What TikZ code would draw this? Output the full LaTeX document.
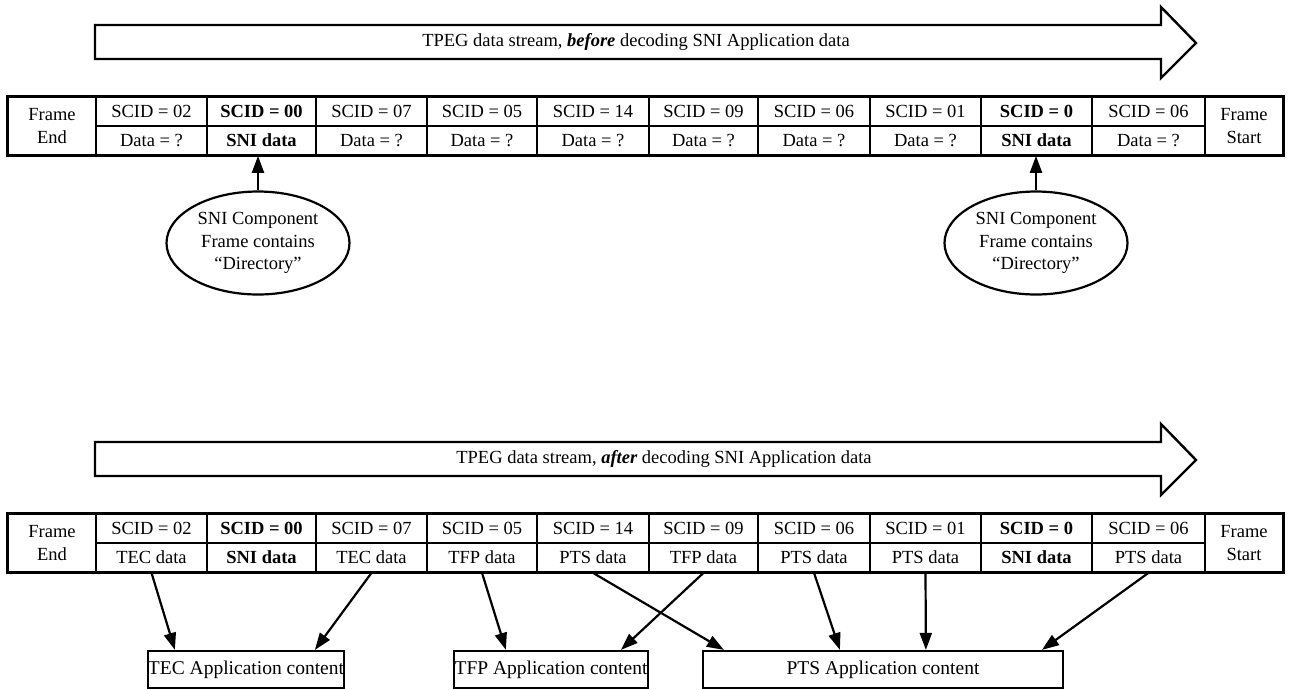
\documentclass[tikz,border=0pt]{standalone}
\usepackage{fontspec}
\setmainfont{Liberation Serif}
\usetikzlibrary{shapes.geometric,arrows.meta,calc}
\begin{document}
\begin{tikzpicture}[x=1pt,y=-1pt,
  txt/.style={font=\fontsize{18.5}{23}\selectfont},
  cell/.style={draw, line width=1.7pt, minimum height=29pt, inner sep=0pt, txt, anchor=center},
  framecell/.style={cell, minimum height=58pt, align=center},
  ell/.style={ellipse, draw, line width=2.2pt, minimum width=183pt, minimum height=103pt, inner sep=0pt, align=center, font=\fontsize{18.5}{22.5}\selectfont},
  appbox/.style={draw, line width=2.2pt, minimum height=37pt, inner sep=0pt, font=\fontsize{19.5}{23}\selectfont},
  arr/.style={line width=2.2pt, -{Triangle[length=17pt,width=12pt]}},
  bigarrow/.style={draw, line width=2.4pt, line join=miter}
]
\useasboundingbox (0,0) rectangle (1293,689);

% ---------- top stream arrow ----------
\draw[bigarrow] (95,25) -- (1161,25) -- (1161,7) -- (1196,43) -- (1161,78) -- (1161,59) -- (95,59) -- cycle;
\node[txt] (s1) at (636,42) {TPEG data stream, \textbf{\textit{before}} decoding SNI Application data};

% ---------- top table ----------
\foreach \xl/\xr/\up/\dn/\nm in {
  96/207/{SCID = 02}/{Data = ?}/1,
  207/316/{\textbf{SCID = 00}}/{\textbf{SNI data}}/2,
  316/427/{SCID = 07}/{Data = ?}/3,
  427/537/{SCID = 05}/{Data = ?}/4,
  537/649/{SCID = 14}/{Data = ?}/5,
  649/758/{SCID = 09}/{Data = ?}/6,
  758/870/{SCID = 06}/{Data = ?}/7,
  870/981/{SCID = 01}/{Data = ?}/8,
  981/1092/{\textbf{SCID = 0}}/{\textbf{SNI data}}/9,
  1092/1205/{SCID = 06}/{Data = ?}/10}{
  \node[cell, minimum width=\xr-\xl] (au\nm) at ({(\xl+\xr)/2},111.5) {\up};
  \node[cell, minimum width=\xr-\xl] (ad\nm) at ({(\xl+\xr)/2},140.5) {\dn};
}
\node[framecell, minimum width=88pt] (afe) at (52,126) {Frame\\End};
\node[framecell, minimum width=78pt] (afs) at (1244,126) {Frame\\Start};
\draw[line width=2.8pt] (afe.north west) rectangle (afs.south east);

% ---------- ellipses ----------
\node[ell] (e1) at (258,243) {SNI Component\\Frame contains\\“Directory”};
\node[ell] (e2) at (1036,243) {SNI Component\\Frame contains\\“Directory”};
\draw[arr] (e1.north) -- (e1.north |- ad2.south);
\draw[arr] (e2.north) -- (e2.north |- ad9.south);

% ---------- bottom stream arrow ----------
\draw[bigarrow] (95,442) -- (1161,442) -- (1161,424) -- (1196,460) -- (1161,495) -- (1161,476) -- (95,476) -- cycle;
\node[txt] (s2) at (664,459) {TPEG data stream, \textbf{\textit{after}} decoding SNI Application data};

% ---------- bottom table ----------
\foreach \xl/\xr/\up/\dn/\nm in {
  96/207/{SCID = 02}/{TEC data}/1,
  207/316/{\textbf{SCID = 00}}/{\textbf{SNI data}}/2,
  316/427/{SCID = 07}/{TEC data}/3,
  427/537/{SCID = 05}/{TFP data}/4,
  537/649/{SCID = 14}/{PTS data}/5,
  649/758/{SCID = 09}/{TFP data}/6,
  758/870/{SCID = 06}/{PTS data}/7,
  870/981/{SCID = 01}/{PTS data}/8,
  981/1092/{\textbf{SCID = 0}}/{\textbf{SNI data}}/9,
  1092/1205/{SCID = 06}/{PTS data}/10}{
  \node[cell, minimum width=\xr-\xl] (bu\nm) at ({(\xl+\xr)/2},528.5) {\up};
  \node[cell, minimum width=\xr-\xl] (bd\nm) at ({(\xl+\xr)/2},557.5) {\dn};
}
\node[framecell, minimum width=88pt] (bfe) at (52,543) {Frame\\End};
\node[framecell, minimum width=78pt] (bfs) at (1244,543) {Frame\\Start};
\draw[line width=2.8pt] (bfe.north west) rectangle (bfs.south east);

% ---------- application boxes ----------
\node[appbox, minimum width=194pt] (tec) at (246,669.5) {TEC Application content};
\node[appbox, minimum width=194pt] (tfp) at (551,669.5) {TFP Application content};
\node[appbox, minimum width=360pt] (pts) at (883,669.5) {PTS Application content};

\coordinate (p1) at ([xshift=28pt]tec.north west);
\coordinate (p2) at ([xshift=168pt]tec.north west);
\coordinate (p3) at ([xshift=53pt]tfp.north west);
\coordinate (p4) at ([xshift=168pt]tfp.north west);
\coordinate (p5) at ([xshift=22pt]pts.north west);
\coordinate (p6) at ([xshift=138pt]pts.north west);
\coordinate (p7) at ([xshift=224pt]pts.north west);
\coordinate (p8) at ([xshift=340pt]pts.north west);

\draw[arr] (bd1.south) -- (p1);
\draw[arr] (bd3.south) -- (p2);
\draw[arr] (bd4.south) -- (p3);
\draw[arr] (bd6.south) -- (p4);
\draw[arr] (bd5.south) -- (p5);
\draw[arr] (bd7.south) -- (p6);
\draw[arr] (bd8.south) -- (p7);
\draw[arr] (bd10.south) -- (p8);
\end{tikzpicture}
\end{document}
